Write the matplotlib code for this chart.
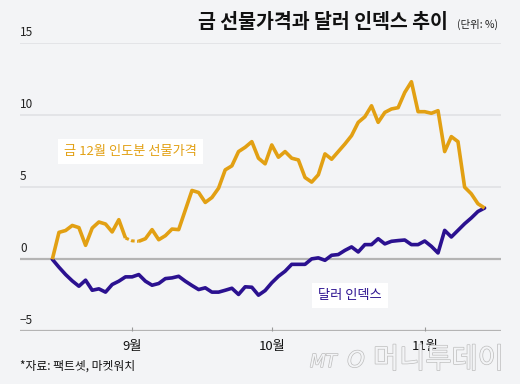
import numpy as np
import matplotlib.pyplot as plt
from matplotlib import patheffects

plt.rcParams['font.family'] = ['Noto Sans CJK KR', 'DejaVu Sans']

# 금 12월 인도분 선물가격 / 달러 인덱스, 기준일 대비 등락률(%) - 거래일 순서
gold = [0, 1.87, 2.0, 2.35, 2.2, 0.97, 2.17, 2.59, 2.45, 1.9,
        2.75, 1.48, 1.28, 1.25, 1.43, 2.06, 1.36, 1.64, 2.1, 2.06,
        3.42, 4.78, 4.64, 3.95, 4.29, 4.94, 6.21, 6.49, 7.48, 7.78,
        8.17, 7.02, 6.63, 7.94, 7.09, 7.48, 7.02, 6.9, 5.68, 5.36,
        5.87, 7.32, 6.95, 7.48, 8.01, 8.59, 9.51, 9.9, 10.66, 9.51,
        10.2, 10.44, 10.53, 11.59, 12.33, 10.25, 10.25, 10.14, 10.32, 7.48,
        8.52, 8.17, 5.01, 4.55, 3.86, 3.56]
gold_gap = [12]  # 점선으로 표시된 구간

dollar = [0, -0.55, -1.06, -1.5, -1.87, -1.45, -2.15, -2.05, -2.28, -1.75,
          -1.52, -1.22, -1.22, -1.06, -1.52, -1.8, -1.68, -1.34, -1.29, -1.18,
          -1.52, -1.82, -2.1, -1.98, -2.28, -2.28, -2.15, -2.01, -2.44, -1.91,
          -1.94, -2.49, -2.17, -1.63, -1.18, -0.83, -0.35, -0.35, -0.35, 0.03,
          0.1, -0.07, 0.28, 0.33, 0.62, 0.86, 0.51, 1.02, 1.02, 1.43,
          1.07, 1.25, 1.3, 1.34, 1.02, 1.02, 1.27, 0.9, 0.44, 2.01,
          1.55, 2.01, 2.47, 2.87, 3.32, 3.56]

month_pos = [12, 33, 56]
month_labels = ['9월', '10월', '11월']
y_ticks = [-5, 0, 5, 10, 15]

BG = '#f3f4f6'
GOLD = '#e2a013'
NAVY = '#2b1190'

x = np.arange(len(gold))
gold = np.array(gold, dtype=float)
dollar = np.array(dollar, dtype=float)

fig = plt.figure(figsize=(5.2, 3.84), dpi=100, facecolor=BG)
ax = fig.add_axes([20 / 520, 1 - 331.3 / 384, 481 / 520, 288 / 384])
ax.set_facecolor(BG)
ax.set_xlim(-4.86, 67.47)
ax.set_ylim(-5, 15)

for v in y_ticks:
    dark = v in (0, -5)
    ax.axhline(v, color='#b4b4b4' if dark else '#e3e4e7',
               lw=1.6 if dark else 1.4, zorder=1)
    ax.annotate('−5' if v < 0 else str(v), (0, v), xycoords=ax.get_yaxis_transform(),
                xytext=(0, 3), textcoords='offset points', ha='left', va='bottom',
                fontsize=8.5, color='#222222')

ax.plot(x, dollar, color=NAVY, lw=2.6, solid_joinstyle='round',
        solid_capstyle='round', zorder=3)

gold_solid = gold.copy()
gold_solid[gold_gap] = np.nan
lo, hi = min(gold_gap) - 1, max(gold_gap) + 1
ax.plot(x[lo:hi + 1], gold[lo:hi + 1], color=GOLD, lw=2.2,
        linestyle=(0, (1.2, 0.8)), zorder=3)
ax.plot(x, gold_solid, color=GOLD, lw=2.6, solid_joinstyle='round',
        solid_capstyle='butt', zorder=4)

ax.text(11.8, 7.49, '금 12월 인도분 선물가격', color=GOLD, fontsize=9.5,
        ha='center', va='center', zorder=5,
        bbox=dict(boxstyle='square,pad=0.45', facecolor='white', edgecolor='none'))
ax.text(44.8, -2.51, '달러 인덱스', color=NAVY, fontsize=9.5,
        ha='center', va='center', zorder=5,
        bbox=dict(boxstyle='square,pad=0.45', facecolor='white', edgecolor='none'))

ax.set_yticks([])
ax.set_xticks(month_pos)
ax.set_xticklabels(month_labels, fontsize=9.5, color='#111111')
ax.tick_params(axis='x', direction='in', length=3, width=0.8, color='#999999', pad=6)
for s in ax.spines.values():
    s.set_visible(False)

# 제목
fig.text(448 / 520, 1 - 22 / 384, '금 선물가격과 달러 인덱스 추이', fontsize=14,
         fontweight='heavy', ha='right', va='center', color='#111111')
fig.text(457 / 520, 1 - 24 / 384, '(단위: %)', fontsize=7.5,
         ha='left', va='center', color='#222222')

fig.text(20 / 520, 1 - 366 / 384, '*자료: 팩트셋, 마켓워치', fontsize=8.5,
         ha='left', va='center', color='#111111')

# 워터마크
outline = [patheffects.Stroke(linewidth=1.0, foreground='#bdbdbd'), patheffects.Normal()]
fig.text(310 / 520, 1 - 362 / 384, 'MT', fontsize=13, style='italic', color=BG,
         ha='left', va='center', path_effects=outline, family='DejaVu Sans')
fig.text(356 / 520, 1 - 361 / 384, 'O', fontsize=16, style='italic', color=BG,
         ha='center', va='center', path_effects=outline, family='DejaVu Sans')
fig.text(373 / 520, 1 - 360 / 384, '머니투데이', fontsize=20.5, color=BG,
         ha='left', va='center', path_effects=outline, fontweight='light')

fig.savefig('out.png', dpi=100, facecolor=BG)
